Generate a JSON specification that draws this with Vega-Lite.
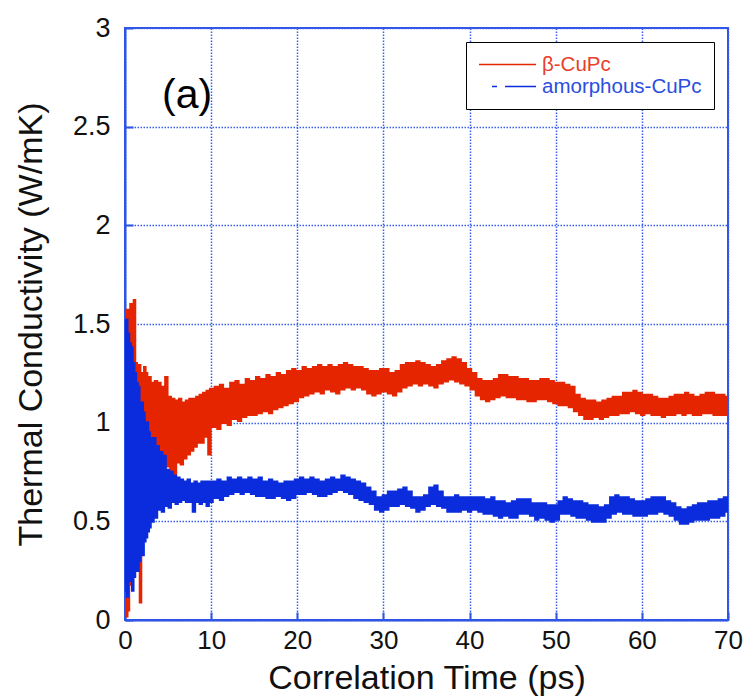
{
  "$schema": "https://vega.github.io/schema/vega-lite/v6.json",
  "autosize": {"type": "none"},
  "padding": {"left": 125, "top": 28, "right": 23, "bottom": 80},
  "width": 603,
  "height": 592,
  "background": "white",
  "config": {
    "view": {"stroke": "#2f55e4", "strokeWidth": 2},
    "font": "Liberation Sans",
    "axis": {
      "labelFont": "Liberation Sans",
      "titleFont": "Liberation Sans",
      "labelColor": "#111111",
      "titleColor": "#111111",
      "titleFontWeight": "normal",
      "labelFlush": false,
      "domainColor": "#2f55e4",
      "domainWidth": 2,
      "tickColor": "#2f55e4",
      "tickWidth": 2,
      "tickSize": -8,
      "gridColor": "#3a5ef0",
      "gridDash": [1.5, 1.5],
      "gridWidth": 1.5,
      "gridOpacity": 1
    }
  },
  "datasets": {
    "d": [
      {"t":0.0,"r":0.65,"b":0.9},{"t":0.1,"r":1.52,"b":0.15},{"t":0.2,"r":0.02,"b":1.52},{"t":0.3,"r":1.57,"b":0.12},
      {"t":0.4,"r":0.05,"b":1.45},{"t":0.5,"r":1.35,"b":0.2},{"t":0.6,"r":0.18,"b":1.4},{"t":0.7,"r":1.6,"b":0.25},
      {"t":0.8,"r":0.25,"b":1.38},{"t":0.9,"r":1.2,"b":0.15},{"t":1.0,"r":0.3,"b":1.3},{"t":1.1,"r":1.62,"b":0.22},
      {"t":1.2,"r":0.45,"b":1.25},{"t":1.3,"r":1.3,"b":0.28},{"t":1.4,"r":0.35,"b":1.2},{"t":1.5,"r":1.1,"b":0.25},
      {"t":1.6,"r":0.6,"b":1.18},{"t":1.7,"r":1.29,"b":0.3},{"t":1.8,"r":0.09,"b":1.1},{"t":1.9,"r":1.25,"b":0.35},
      {"t":2.0,"r":0.5,"b":1.1},{"t":2.1,"r":1.22,"b":0.33},{"t":2.2,"r":0.75,"b":1.05},{"t":2.3,"r":1.28,"b":0.4},
      {"t":2.4,"r":0.9,"b":0.98},{"t":2.5,"r":1.25,"b":0.42},{"t":2.6,"r":0.85,"b":1.0},{"t":2.7,"r":1.2,"b":0.45},
      {"t":2.8,"r":0.95,"b":0.95},{"t":2.9,"r":1.23,"b":0.47},{"t":3.0,"r":0.9,"b":0.92},
      {"t":3.2,"r":1.2,"b":0.5},{"t":3.4,"r":0.9,"b":0.92},{"t":3.6,"r":1.21,"b":0.52},{"t":3.8,"r":0.86,"b":0.88},
      {"t":4.0,"r":1.2,"b":0.56},{"t":4.2,"r":0.82,"b":0.85},{"t":4.4,"r":1.18,"b":0.55},{"t":4.6,"r":0.8,"b":0.83},
      {"t":4.8,"r":1.23,"b":0.58},{"t":5.0,"r":0.78,"b":0.76},{"t":5.2,"r":1.13,"b":0.57},{"t":5.4,"r":0.75,"b":0.75},
      {"t":5.6,"r":1.12,"b":0.6},{"t":5.8,"r":0.74,"b":0.73},{"t":6.0,"r":1.11,"b":0.59},{"t":6.2,"r":0.8,"b":0.72},
      {"t":6.4,"r":1.12,"b":0.6},{"t":6.6,"r":0.79,"b":0.71},{"t":6.8,"r":1.1,"b":0.61},{"t":7.0,"r":0.82,"b":0.7},
      {"t":7.2,"r":1.11,"b":0.6},{"t":7.4,"r":0.84,"b":0.71},{"t":7.6,"r":1.12,"b":0.6},{"t":7.8,"r":0.86,"b":0.69},
      {"t":8.0,"r":1.12,"b":0.55},{"t":8.2,"r":0.88,"b":0.7},{"t":8.4,"r":1.13,"b":0.6},{"t":8.6,"r":0.9,"b":0.69},
      {"t":8.8,"r":1.14,"b":0.59},{"t":9.0,"r":0.9,"b":0.7},{"t":9.2,"r":1.15,"b":0.6},{"t":9.4,"r":0.93,"b":0.7},
      {"t":9.6,"r":1.16,"b":0.58},{"t":9.8,"r":0.84,"b":0.7},{"t":10.0,"r":1.17,"b":0.6},
      {"t":10.3,"r":0.98,"b":0.70},{"t":10.6,"r":1.18,"b":0.62},{"t":10.9,"r":0.97,"b":0.71},{"t":11.2,"r":1.19,"b":0.61},
      {"t":11.5,"r":1.0,"b":0.70},{"t":11.8,"r":1.17,"b":0.63},{"t":12.1,"r":0.99,"b":0.72},{"t":12.4,"r":1.2,"b":0.64},
      {"t":12.7,"r":1.02,"b":0.71},{"t":13.0,"r":1.21,"b":0.65},{"t":13.3,"r":1.01,"b":0.72},{"t":13.6,"r":1.19,"b":0.64},
      {"t":13.9,"r":1.03,"b":0.71},{"t":14.2,"r":1.22,"b":0.65},{"t":14.5,"r":1.04,"b":0.72},{"t":14.8,"r":1.21,"b":0.64},
      {"t":15.1,"r":1.04,"b":0.71},{"t":15.4,"r":1.23,"b":0.63},{"t":15.7,"r":1.05,"b":0.72},{"t":16.0,"r":1.22,"b":0.63},
      {"t":16.3,"r":1.06,"b":0.70},{"t":16.6,"r":1.24,"b":0.62},{"t":16.9,"r":1.05,"b":0.71},{"t":17.2,"r":1.23,"b":0.62},
      {"t":17.5,"r":1.07,"b":0.70},{"t":17.8,"r":1.25,"b":0.63},{"t":18.1,"r":1.08,"b":0.69},{"t":18.4,"r":1.24,"b":0.62},
      {"t":18.7,"r":1.09,"b":0.70},{"t":19.0,"r":1.26,"b":0.61},{"t":19.3,"r":1.1,"b":0.70},{"t":19.6,"r":1.27,"b":0.62},
      {"t":19.9,"r":1.11,"b":0.71},{"t":20.2,"r":1.26,"b":0.64},{"t":20.5,"r":1.13,"b":0.72},{"t":20.8,"r":1.28,"b":0.64},
      {"t":21.1,"r":1.14,"b":0.71},{"t":21.4,"r":1.27,"b":0.65},{"t":21.7,"r":1.15,"b":0.72},{"t":22.0,"r":1.28,"b":0.64},
      {"t":22.3,"r":1.16,"b":0.71},{"t":22.6,"r":1.29,"b":0.63},{"t":22.9,"r":1.15,"b":0.70},{"t":23.2,"r":1.28,"b":0.63},
      {"t":23.5,"r":1.17,"b":0.71},{"t":23.8,"r":1.29,"b":0.64},{"t":24.1,"r":1.16,"b":0.72},{"t":24.4,"r":1.28,"b":0.65},
      {"t":24.7,"r":1.15,"b":0.71},{"t":25.0,"r":1.29,"b":0.66},{"t":25.3,"r":1.17,"b":0.73},{"t":25.6,"r":1.3,"b":0.65},
      {"t":25.9,"r":1.18,"b":0.72},{"t":26.2,"r":1.29,"b":0.64},{"t":26.5,"r":1.17,"b":0.71},{"t":26.8,"r":1.28,"b":0.62},
      {"t":27.1,"r":1.18,"b":0.70},{"t":27.4,"r":1.28,"b":0.61},{"t":27.7,"r":1.17,"b":0.69},{"t":28.0,"r":1.27,"b":0.60},
      {"t":28.3,"r":1.15,"b":0.67},{"t":28.6,"r":1.26,"b":0.59},{"t":28.9,"r":1.14,"b":0.65},{"t":29.2,"r":1.26,"b":0.56},
      {"t":29.5,"r":1.15,"b":0.62},{"t":29.8,"r":1.27,"b":0.55},{"t":30.1,"r":1.16,"b":0.63},{"t":30.4,"r":1.27,"b":0.56},
      {"t":30.7,"r":1.15,"b":0.65},{"t":31.0,"r":1.25,"b":0.58},{"t":31.3,"r":1.14,"b":0.65},{"t":31.6,"r":1.26,"b":0.58},
      {"t":31.9,"r":1.16,"b":0.66},{"t":32.2,"r":1.29,"b":0.59},{"t":32.5,"r":1.18,"b":0.67},{"t":32.8,"r":1.3,"b":0.58},
      {"t":33.1,"r":1.19,"b":0.65},{"t":33.4,"r":1.3,"b":0.57},{"t":33.7,"r":1.2,"b":0.62},{"t":34.0,"r":1.31,"b":0.55},
      {"t":34.3,"r":1.19,"b":0.62},{"t":34.6,"r":1.3,"b":0.56},{"t":34.9,"r":1.2,"b":0.63},{"t":35.2,"r":1.29,"b":0.58},
      {"t":35.5,"r":1.19,"b":0.67},{"t":35.8,"r":1.28,"b":0.59},{"t":36.1,"r":1.18,"b":0.68},{"t":36.4,"r":1.29,"b":0.58},
      {"t":36.7,"r":1.2,"b":0.65},{"t":37.0,"r":1.31,"b":0.57},{"t":37.3,"r":1.21,"b":0.62},{"t":37.6,"r":1.32,"b":0.55},
      {"t":37.9,"r":1.22,"b":0.62},{"t":38.2,"r":1.33,"b":0.55},{"t":38.5,"r":1.21,"b":0.63},{"t":38.8,"r":1.32,"b":0.55},
      {"t":39.1,"r":1.2,"b":0.62},{"t":39.4,"r":1.3,"b":0.56},{"t":39.7,"r":1.19,"b":0.62},{"t":40.0,"r":1.27,"b":0.55},
      {"t":40.3,"r":1.17,"b":0.62},{"t":40.6,"r":1.25,"b":0.56},{"t":40.9,"r":1.14,"b":0.62},{"t":41.2,"r":1.22,"b":0.55},
      {"t":41.5,"r":1.12,"b":0.62},{"t":41.8,"r":1.21,"b":0.54},{"t":42.1,"r":1.11,"b":0.61},{"t":42.4,"r":1.21,"b":0.54},
      {"t":42.7,"r":1.12,"b":0.62},{"t":43.0,"r":1.22,"b":0.53},{"t":43.3,"r":1.13,"b":0.60},{"t":43.6,"r":1.24,"b":0.52},
      {"t":43.9,"r":1.14,"b":0.60},{"t":44.2,"r":1.24,"b":0.53},{"t":44.5,"r":1.13,"b":0.59},{"t":44.8,"r":1.23,"b":0.52},
      {"t":45.1,"r":1.13,"b":0.60},{"t":45.4,"r":1.23,"b":0.52},{"t":45.7,"r":1.12,"b":0.61},{"t":46.0,"r":1.22,"b":0.54},
      {"t":46.3,"r":1.12,"b":0.61},{"t":46.6,"r":1.22,"b":0.54},{"t":46.9,"r":1.11,"b":0.61},{"t":47.2,"r":1.21,"b":0.53},
      {"t":47.5,"r":1.11,"b":0.59},{"t":47.8,"r":1.21,"b":0.51},{"t":48.1,"r":1.12,"b":0.59},{"t":48.4,"r":1.22,"b":0.52},
      {"t":48.7,"r":1.12,"b":0.59},{"t":49.0,"r":1.22,"b":0.51},{"t":49.3,"r":1.11,"b":0.58},{"t":49.6,"r":1.21,"b":0.50},
      {"t":49.9,"r":1.1,"b":0.58},{"t":50.2,"r":1.2,"b":0.51},{"t":50.5,"r":1.09,"b":0.60},{"t":50.8,"r":1.2,"b":0.54},
      {"t":51.1,"r":1.09,"b":0.62},{"t":51.4,"r":1.19,"b":0.54},{"t":51.7,"r":1.08,"b":0.61},{"t":52.0,"r":1.18,"b":0.53},
      {"t":52.3,"r":1.06,"b":0.60},{"t":52.6,"r":1.14,"b":0.52},{"t":52.9,"r":1.04,"b":0.60},{"t":53.2,"r":1.12,"b":0.52},
      {"t":53.5,"r":1.02,"b":0.59},{"t":53.8,"r":1.11,"b":0.51},{"t":54.1,"r":1.02,"b":0.58},{"t":54.4,"r":1.11,"b":0.50},
      {"t":54.7,"r":1.03,"b":0.58},{"t":55.0,"r":1.1,"b":0.50},{"t":55.3,"r":1.02,"b":0.57},{"t":55.6,"r":1.11,"b":0.50},
      {"t":55.9,"r":1.03,"b":0.58},{"t":56.2,"r":1.12,"b":0.52},{"t":56.5,"r":1.04,"b":0.62},{"t":56.8,"r":1.13,"b":0.54},
      {"t":57.1,"r":1.04,"b":0.63},{"t":57.4,"r":1.13,"b":0.55},{"t":57.7,"r":1.05,"b":0.62},{"t":58.0,"r":1.15,"b":0.54},
      {"t":58.3,"r":1.05,"b":0.62},{"t":58.6,"r":1.15,"b":0.54},{"t":58.9,"r":1.06,"b":0.61},{"t":59.2,"r":1.16,"b":0.53},
      {"t":59.5,"r":1.05,"b":0.60},{"t":59.8,"r":1.15,"b":0.53},{"t":60.1,"r":1.04,"b":0.60},{"t":60.4,"r":1.14,"b":0.53},
      {"t":60.7,"r":1.05,"b":0.61},{"t":61.0,"r":1.14,"b":0.54},{"t":61.3,"r":1.04,"b":0.62},{"t":61.6,"r":1.13,"b":0.54},
      {"t":61.9,"r":1.04,"b":0.62},{"t":62.2,"r":1.12,"b":0.55},{"t":62.5,"r":1.03,"b":0.62},{"t":62.8,"r":1.12,"b":0.54},
      {"t":63.1,"r":1.04,"b":0.60},{"t":63.4,"r":1.13,"b":0.53},{"t":63.7,"r":1.04,"b":0.59},{"t":64.0,"r":1.14,"b":0.51},
      {"t":64.3,"r":1.05,"b":0.57},{"t":64.6,"r":1.14,"b":0.49},{"t":64.9,"r":1.04,"b":0.56},{"t":65.2,"r":1.15,"b":0.49},
      {"t":65.5,"r":1.05,"b":0.57},{"t":65.8,"r":1.14,"b":0.50},{"t":66.1,"r":1.04,"b":0.58},{"t":66.4,"r":1.13,"b":0.51},
      {"t":66.7,"r":1.04,"b":0.59},{"t":67.0,"r":1.14,"b":0.51},{"t":67.3,"r":1.05,"b":0.59},{"t":67.6,"r":1.15,"b":0.51},
      {"t":67.9,"r":1.05,"b":0.60},{"t":68.2,"r":1.15,"b":0.52},{"t":68.5,"r":1.04,"b":0.60},{"t":68.8,"r":1.14,"b":0.52},
      {"t":69.1,"r":1.04,"b":0.61},{"t":69.4,"r":1.14,"b":0.53},{"t":69.7,"r":1.04,"b":0.62},{"t":70.0,"r":1.13,"b":0.55}
    ],
    "ann": [{"t": 4.3, "k": 2.595, "label": "(a)"}]
  },
  "layer": [
    {
      "data": {"name": "d"},
      "transform": [{"fold": ["r", "b"], "as": ["s", "k"]}],
      "mark": {"type": "line", "strokeWidth": 2.7, "interpolate": "step", "clip": true},
      "encoding": {
        "x": {
          "field": "t", "type": "quantitative",
          "scale": {"domain": [0, 70], "nice": false},
          "axis": {
            "values": [0, 10, 20, 30, 40, 50, 60, 70],
            "labelFontSize": 26, "labelPadding": 15,
            "titleFontSize": 34, "titlePadding": 8,
            "title": "Correlation Time (ps)"
          }
        },
        "y": {
          "field": "k", "type": "quantitative",
          "scale": {"domain": [0, 3], "nice": false},
          "axis": {
            "values": [0, 0.5, 1, 1.5, 2, 2.5, 3],
            "format": "~g",
            "labelFontSize": 27, "labelPadding": 23,
            "titleFontSize": 34, "titlePadding": 24,
            "title": "Thermal Conductivity (W/mK)"
          }
        },
        "color": {
          "field": "s", "type": "nominal",
          "scale": {"domain": ["r", "b"], "range": ["#e42500", "#0a2cdc"]},
          "legend": {
            "orient": "none", "legendX": 341, "legendY": 14,
            "title": null,
            "labelExpr": "datum.value === 'r' ? 'β-CuPc' : 'amorphous-CuPc'",
            "labelFont": "Liberation Sans", "labelFontSize": 20.5, "labelOffset": 24,
            "strokeColor": "#000000", "fillColor": "#ffffff", "padding": 12,
            "symbolType": "M-3,0H3", "symbolSize": 361, "symbolStrokeWidth": 1.5,
            "symbolOffset": 19,
            "rowPadding": 1,
            "encode": {
              "labels": {"update": {"fill": {"signal": "datum.value === 'r' ? '#e8402a' : '#2a4ee0'"}}},
              "symbols": {"update": {"strokeDash": {"signal": "datum.value === 'b' ? [0,13,5,8,40,0] : [1,0]"}}}
            }
          }
        },
        "order": {"field": "t", "type": "quantitative"}
      }
    },
    {
      "data": {"name": "ann"},
      "mark": {"type": "text", "align": "left", "baseline": "alphabetic", "fontSize": 41, "font": "Liberation Sans", "color": "#000000"},
      "encoding": {
        "x": {"field": "t", "type": "quantitative"},
        "y": {"field": "k", "type": "quantitative"},
        "text": {"field": "label"}
      }
    }
  ]
}
